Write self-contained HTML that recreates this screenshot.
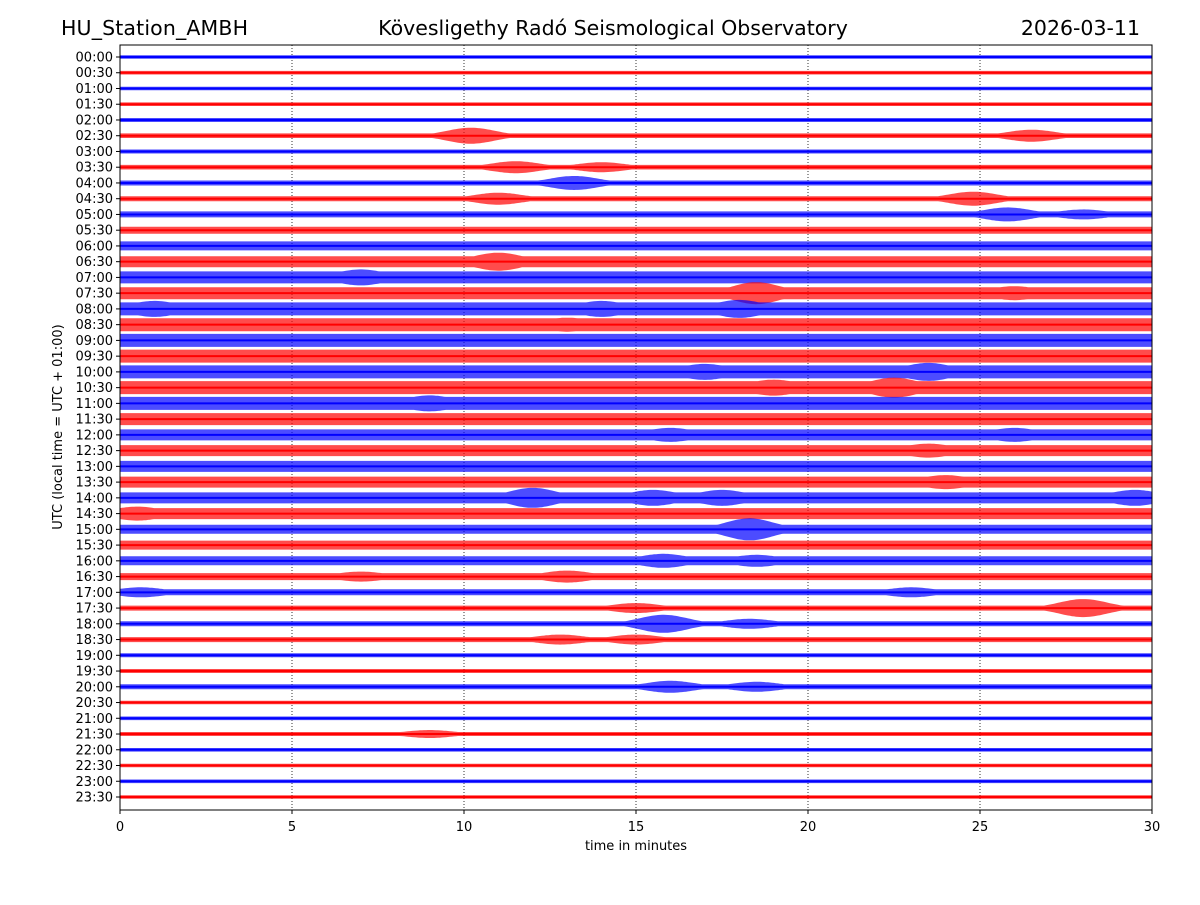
<!DOCTYPE html>
<html><head><meta charset="utf-8">
<style>
body{margin:0;background:#fff;}
svg text{font-family:"DejaVu Sans","Liberation Sans",sans-serif;fill:#000;}
</style></head>
<body>
<svg id="chart" width="1200" height="900" viewBox="0 0 1200 900" xmlns="http://www.w3.org/2000/svg">
<rect width="1200" height="900" fill="#fff"/>
<text x="61" y="35" font-size="20.5" textLength="187">HU_Station_AMBH</text>
<text x="613" y="35" font-size="20.5" text-anchor="middle">Kövesligethy Radó Seismological Observatory</text>
<text x="1140" y="35" font-size="20.5" text-anchor="end">2026-03-11</text>
<g id="grid"></g>
<g id="traces"></g>
<rect x="120" y="45" width="1032" height="765" fill="none" stroke="#000" stroke-width="1"/>
<g id="yaxis"></g>
<g id="xaxis"></g>
<text x="636" y="850" font-size="13" text-anchor="middle">time in minutes</text>
<text transform="translate(62,427) rotate(-90)" font-size="13" text-anchor="middle">UTC (local time = UTC + 01:00)</text>
</svg>
<script>
const rowLabels=["00:00","00:30","01:00","01:30","02:00","02:30","03:00","03:30","04:00","04:30","05:00","05:30","06:00","06:30","07:00","07:30","08:00","08:30","09:00","09:30","10:00","10:30","11:00","11:30","12:00","12:30","13:00","13:30","14:00","14:30","15:00","15:30","16:00","16:30","17:00","17:30","18:00","18:30","19:00","19:30","20:00","20:30","21:00","21:30","22:00","22:30","23:00","23:30"];
const baseAmp=[1.8,1.8,1.8,1.8,2,2.3,2,2.3,2.5,2.5,3,3.5,4.5,5.5,6,6,6.5,6.5,6.5,6.5,6.5,6.5,6.5,6,5.5,5.5,5.5,5.5,5.5,5.5,4.5,4.5,4.5,3.5,3,2.5,2.5,2.5,2,2,2.5,1.8,1.8,2,1.8,1.8,1.8,1.8];
const eventRows=[5,5,7,7,8,9,9,10,10,13,14,15,15,16,16,16,17,20,20,21,21,22,24,24,25,27,28,28,28,28,29,30,32,32,33,33,34,34,35,35,36,36,37,37,40,40,43];
const eventMin=[10.2,26.5,11.5,14,13.2,11,24.8,25.8,28,11,7,18.5,26,1,18,14,13,17,23.5,22.5,19,9,16,26,23.5,24,12,29.5,17.5,15.5,0.5,18.3,15.8,18.5,7,13,0.6,23,28,15,15.8,18.3,12.8,15,16,18.5,9];
const eventAmp=[8,6,6,5,7,6,7,7,5,9,8,11,7,8,9,8,7,8,9,10,8,8,7,7,7,7,10,8,8,8,7,11,7,6,5,6,5,5,9,5,9,5,5,5,6,5,4];
const xTicks=[0,5,10,15,20,25,30];

const NS="http://www.w3.org/2000/svg";
const X0=120,X1=1152,Y0=57,DY=(797-57)/47;
const xs=m=>X0+(X1-X0)*m/30;
const ys=i=>Y0+i*DY;
const mk=(t,a,p)=>{const e=document.createElementNS(NS,t);for(const k in a)e.setAttribute(k,a[k]);p.appendChild(e);return e;};
const grid=document.getElementById('grid'),traces=document.getElementById('traces'),ya=document.getElementById('yaxis'),xa=document.getElementById('xaxis');

xTicks.forEach(t=>{
  if(t>0&&t<30){const g=mk('line',{x1:xs(t),x2:xs(t),y1:45,y2:810,stroke:'#000','stroke-width':0.8,'stroke-dasharray':'1,2'},grid);
  
  }
  const tk=mk('line',{x1:xs(t),x2:xs(t),y1:810,y2:814,stroke:'#000'},xa);
  
  
  const tl=mk('text',{x:xs(t),y:831,'font-size':13,'text-anchor':'middle'},xa);tl.textContent=t;
  
  
});

rowLabels.forEach((lab,i)=>{
  const y=ys(i);
  const tk=mk('line',{x1:116,x2:120,y1:y,y2:y,stroke:'#000'},ya);
  
  
  const tl=mk('text',{x:113,y:y+4.5,'font-size':13,'text-anchor':'end'},ya);tl.textContent=lab;
  
  
  const top=[],bot=[];
  for(let px=X0;px<=X1;px+=2){
    const m=(px-X0)/(X1-X0)*30;
    let a=baseAmp[i];
    for(let k=0;k<eventRows.length;k++){
      if(eventRows[k]!==i)continue;
      const d=(m-eventMin[k])/1.0;
      a=Math.max(a,eventAmp[k]*Math.exp(-d*d));
    }
    top.push(px+','+(y-a).toFixed(1));bot.unshift(px+','+(y+a).toFixed(1));
  }
  const col=i%2===0?'#0000ff':'#ff0000';
  const p=mk('polygon',{points:top.concat(bot).join(' '),fill:col,'fill-opacity':0.7,stroke:'none'},traces);
  
  
  const c=mk('line',{x1:X0,x2:X1,y1:y,y2:y,stroke:col,'stroke-width':2},traces);
  
  
});
</script>
</body></html>
